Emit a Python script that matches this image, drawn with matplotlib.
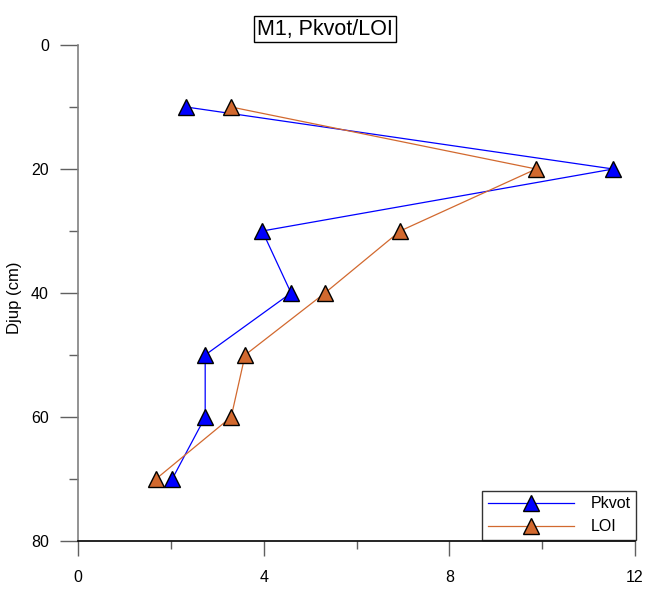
import matplotlib
matplotlib.use("Agg")
import matplotlib.pyplot as plt
from matplotlib.ticker import MultipleLocator

depth = [10, 20, 30, 40, 50, 60, 70]
pkvot = [2.33, 11.53, 3.97, 4.59, 2.74, 2.74, 2.03]
loi = [3.30, 9.87, 6.94, 5.32, 3.60, 3.30, 1.68]
series_names = ["Pkvot", "LOI"]
title_text = "M1, Pkvot/LOI"
ylabel_text = "Djup (cm)"

plt.rcParams['font.family'] = ['Liberation Sans', 'DejaVu Sans']

W, H = 650, 591
fig = plt.figure(figsize=(W / 100, H / 100), dpi=100)
ax = fig.add_axes([78 / W, 1 - 541 / H, (635 - 78) / W, (541 - 45) / H])

ax.plot(pkvot, depth, color='#0000FF', lw=0.9, marker='^', ms=12,
        mfc='#0000FF', mec='black', mew=1.0, label=series_names[0], zorder=3)
ax.plot(loi, depth, color='#D2692F', lw=0.9, marker='^', ms=12,
        mfc='#D2692F', mec='black', mew=1.0, label=series_names[1], zorder=3)

ax.set_xlim(0, 12)
ax.set_ylim(80, 0)
ax.xaxis.set_major_locator(MultipleLocator(4))
ax.xaxis.set_minor_locator(MultipleLocator(2))
ax.yaxis.set_major_locator(MultipleLocator(20))
ax.yaxis.set_minor_locator(MultipleLocator(10))

for s in ['top', 'right']:
    ax.spines[s].set_visible(False)
ax.spines['left'].set_color('#808080')
ax.spines['left'].set_linewidth(1.2)
ax.spines['bottom'].set_color('black')
ax.spines['bottom'].set_linewidth(1.2)
ax.spines['bottom'].set_zorder(4)

ax.tick_params(axis='y', which='major', direction='out', length=13, width=1.0,
               color='#606060', labelsize=11.5, pad=8)
ax.tick_params(axis='y', which='minor', direction='out', length=6.5, width=1.0,
               color='#606060')
ax.tick_params(axis='x', which='major', direction='out', length=11, width=1.0,
               color='#606060', labelsize=11.5, pad=10)
ax.tick_params(axis='x', which='minor', direction='out', length=6, width=1.0,
               color='#606060')

fig.text(14 / W, 1 - 298 / H, ylabel_text, rotation=90, ha='center', va='center',
         fontsize=12)

fig.text(325 / W, 1 - 29 / H, title_text, ha='center', va='center', fontsize=15.5,
         bbox=dict(boxstyle='square,pad=0.12', fc='white', ec='black', lw=1.0))

leg = ax.legend(loc='lower right', bbox_to_anchor=(636 / W, 1 - 540 / H),
                bbox_transform=fig.transFigure, frameon=True, fancybox=False,
                edgecolor='black', fontsize=11.5, handlelength=5.4, handletextpad=1.0,
                borderpad=0.35, labelspacing=0.5, borderaxespad=0)
leg.get_frame().set_linewidth(1.0)

fig.savefig("out.png", dpi=100)
